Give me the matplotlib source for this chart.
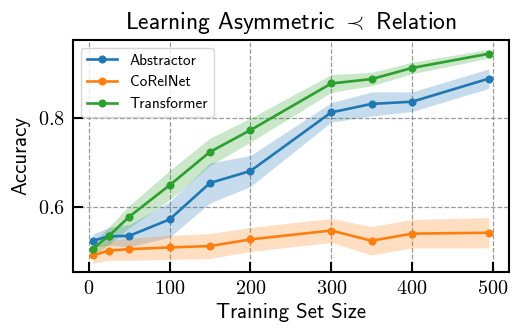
import matplotlib
matplotlib.use("Agg")
import matplotlib.pyplot as plt
from matplotlib.ticker import FuncFormatter
import numpy as np

plt.rcParams['mathtext.fontset'] = 'cm'
plt.rcParams['font.family'] = ['cmss10', 'DejaVu Sans']
plt.rcParams['axes.unicode_minus'] = False

train_sizes = [5, 25, 50, 100, 150, 200, 300, 350, 400, 495]

abstractor_mean = [0.524, 0.534, 0.535, 0.572, 0.654, 0.681, 0.813, 0.832, 0.837, 0.889]
abstractor_err = [0.015, 0.02, 0.025, 0.04, 0.045, 0.035, 0.022, 0.027, 0.022, 0.022]

corelnet_mean = [0.491, 0.502, 0.505, 0.509, 0.512, 0.527, 0.547, 0.524, 0.540, 0.542]
corelnet_err = [0.018, 0.022, 0.025, 0.027, 0.028, 0.027, 0.027, 0.032, 0.032, 0.034]

transformer_mean = [0.506, 0.535, 0.578, 0.649, 0.724, 0.773, 0.878, 0.888, 0.913, 0.945]
transformer_err = [0.015, 0.02, 0.025, 0.033, 0.031, 0.027, 0.02, 0.015, 0.013, 0.01]

series = [
    ("Abstractor", abstractor_mean, abstractor_err, "#1f77b4"),
    ("CoRelNet", corelnet_mean, corelnet_err, "#ff7f0e"),
    ("Transformer", transformer_mean, transformer_err, "#2ca02c"),
]

fig = plt.figure(figsize=(5.15, 3.33), dpi=100)
ax = fig.add_axes([0.1417, 0.183, 0.846, 0.697])

for name, m, e, c in series:
    m = np.array(m); e = np.array(e)
    ax.plot(train_sizes, m, marker='o', markersize=4.8, lw=1.9, color=c, label=name, zorder=3)
    ax.fill_between(train_sizes, m - e, m + e, color=c, alpha=0.25, lw=0, zorder=2)

ax.set_ylim(0.4535, 0.976)
ax.set_xticks([0, 100, 200, 300, 400, 500])
ax.set_yticks([0.6, 0.8])
ax.xaxis.set_major_formatter(FuncFormatter(lambda v, p: f"${v:g}$"))
ax.yaxis.set_major_formatter(FuncFormatter(lambda v, p: f"${v:g}$"))
ax.tick_params(direction='in', length=7, width=1.5, labelsize=14.5, pad=6)
for s in ax.spines.values():
    s.set_linewidth(1.5)
ax.grid(True, ls='--', color='gray', alpha=0.8, lw=0.9)

ax.set_title(r"Learning Asymmetric $\prec$ Relation", fontsize=17, pad=8)
ax.set_xlabel("Training Set Size", fontsize=15, labelpad=3)
ax.set_ylabel("Accuracy", fontsize=15, labelpad=5)
ax.legend(loc='upper left', fontsize=11, framealpha=0.8)

fig.savefig("out.png", dpi=100)
